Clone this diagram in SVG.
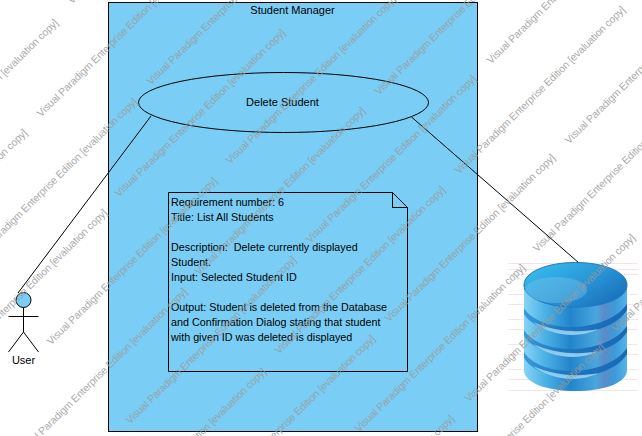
<svg xmlns="http://www.w3.org/2000/svg" width="642" height="436" viewBox="0 0 642 436">
<style>
.s{fill:none;stroke:#000;stroke-width:1}
.f{fill:#7ACEF5;stroke:#000;stroke-width:1}
text{font-family:"Liberation Sans",Arial,sans-serif;font-size:11px;fill:#000}
.m{text-anchor:middle}
.n{font-size:10.78px}
.w{font-size:10.5px;fill:#999;fill-opacity:.85}
.b{stroke:#f3e6ea;stroke-width:1}
.h{fill:#a8dcf5;fill-opacity:.8}
.d{fill:url(#band)}
</style>
<defs>
<linearGradient id="side" x1="0" x2="1" y1="0" y2="0">
<stop offset="0" stop-color="#86d4f4"/><stop offset=".2" stop-color="#4db2e6"/><stop offset=".45" stop-color="#2285cc"/><stop offset=".7" stop-color="#4aa6dc"/><stop offset=".78" stop-color="#5a8cc8"/><stop offset=".88" stop-color="#3d9ad8"/><stop offset="1" stop-color="#52b4e8"/>
</linearGradient>
<linearGradient id="top" x1="0" x2="1" y1="0" y2=".7">
<stop offset="0" stop-color="#3cc0f2"/><stop offset=".55" stop-color="#2a9ad8"/><stop offset="1" stop-color="#1a72bc"/>
</linearGradient>
<linearGradient id="band" x1="0" x2="1" y1="0" y2="0">
<stop offset="0" stop-color="#3a9ad8"/><stop offset=".35" stop-color="#1f78c0"/><stop offset="1" stop-color="#1a68b4"/>
</linearGradient>
</defs>
<g id="system"><rect class="f" x="108.5" y="2.5" width="369" height="429"/><text class="m" x="292.5" y="14">Student Manager</text></g>
<g id="usecase"><ellipse class="f" cx="283.5" cy="102.5" rx="145" ry="30"/><text class="m" x="282.5" y="106">Delete Student</text></g>
<g id="note">
<path class="f" d="M168.5 192.5H392.5L407.5 207.5V371.5H168.5Z"/><path class="s" d="M392.5 192.5V207.5H407.5"/>
<text class="n" x="171" y="206">Requirement number: 6</text>
<text class="n" x="171" y="221">Title: List All Students</text>
<text class="n" x="171" y="251" xml:space="preserve">Description:  Delete currently displayed</text>
<text class="n" x="171" y="266">Student.</text>
<text class="n" x="171" y="281">Input: Selected Student ID</text>
<text class="n" x="171" y="311">Output: Student is deleted from the Database</text>
<text class="n" x="171" y="326">and Confirmation Dialog stating that student</text>
<text class="n" x="171" y="341">with given ID was deleted is displayed</text>
</g>
<g id="connectors"><path class="s" d="M151 116L18 293"/><path class="s" d="M411.5 117L579 263"/></g>
<g id="user">
<circle cx="23.5" cy="300" r="7.5" fill="#7ACEF5" stroke="#000"/>
<path class="s" d="M23.5 307.5V332M8.5 316.5H38.5M8.5 352L23.5 332L38.5 352"/>
<text class="m" x="23.5" y="364">User</text>
</g>
<g id="database">
<path class="b" d="M508 263.500H638M508 269.500H638M508 274.500H638M508 294.500H638M508 304.500H638M508 319.500H638M508 329.500H638M508 344.500H638M508 354.500H638M508 369.500H638M508 379.500H638M508 390.500H638"/>
<path d="M524 285V370C524 383 547 391 575.500 391S627 383 627 370V285Z" fill="url(#side)"/>
<path class="d" d="M524 352C540 378 606 378 627 348V354C608 384 540 384 524 358Z"/>
<path class="d" d="M524 330C540 356 606 356 627 326V332C608 362 540 362 524 336Z"/>
<path class="d" d="M524 308C540 334 606 334 627 304V310C608 340 540 340 524 314Z"/>
<path class="h" d="M533 366C555 376 580 377 598 373C580 383 550 380 533 366Z M533 344C555 354 580 355 598 351C580 361 550 358 533 344Z M533 322C555 332 580 333 598 329C580 339 550 336 533 322Z"/>
<path d="M524 285C524 298 547 307 575.500 307S627 298 627 285C627 272 604 262.500 575.500 262.500S524 272 524 285Z" fill="url(#top)" stroke="#1e78c0"/>
<ellipse cx="556" cy="290" rx="31" ry="13" fill="#7cc4ea" fill-opacity=".4"/>
</g>
<g id="watermark">
<g transform="translate(4 2.500)">
<text class="w" textLength="234" transform="translate(-43 36) rotate(-44.500)">Visual Paradigm Enterprise Edition [evaluation copy]</text>
<text class="w" textLength="234" transform="translate(37 115) rotate(-44.500)">Visual Paradigm Enterprise Edition [evaluation copy]</text>
<text class="w" textLength="234" transform="translate(115 195) rotate(-44.500)">Visual Paradigm Enterprise Edition [evaluation copy]</text>
<text class="w" textLength="234" transform="translate(195 273) rotate(-44.500)">Visual Paradigm Enterprise Edition [evaluation copy]</text>
<text class="w" textLength="234" transform="translate(275 352) rotate(-44.500)">Visual Paradigm Enterprise Edition [evaluation copy]</text>
<text class="w" textLength="234" transform="translate(355 430) rotate(-44.500)">Visual Paradigm Enterprise Edition [evaluation copy]</text>
<text class="w" textLength="234" transform="translate(434 509) rotate(-44.500)">Visual Paradigm Enterprise Edition [evaluation copy]</text>
<text class="w" textLength="234" transform="translate(68 2) rotate(-44.500)">Visual Paradigm Enterprise Edition [evaluation copy]</text>
<text class="w" textLength="234" transform="translate(147 83) rotate(-44.500)">Visual Paradigm Enterprise Edition [evaluation copy]</text>
<text class="w" textLength="234" transform="translate(226 162) rotate(-44.500)">Visual Paradigm Enterprise Edition [evaluation copy]</text>
<text class="w" textLength="234" transform="translate(306 241) rotate(-44.500)">Visual Paradigm Enterprise Edition [evaluation copy]</text>
<text class="w" textLength="234" transform="translate(385 320) rotate(-44.500)">Visual Paradigm Enterprise Edition [evaluation copy]</text>
<text class="w" textLength="234" transform="translate(465 400) rotate(-44.500)">Visual Paradigm Enterprise Edition [evaluation copy]</text>
<text class="w" textLength="234" transform="translate(375 93) rotate(-44.500)">Visual Paradigm Enterprise Edition [evaluation copy]</text>
<text class="w" textLength="234" transform="translate(455 172) rotate(-44.500)">Visual Paradigm Enterprise Edition [evaluation copy]</text>
<text class="w" textLength="234" transform="translate(533 250) rotate(-44.500)">Visual Paradigm Enterprise Edition [evaluation copy]</text>
<text class="w" textLength="234" transform="translate(612 330) rotate(-44.500)">Visual Paradigm Enterprise Edition [evaluation copy]</text>
<text class="w" textLength="234" transform="translate(487 62) rotate(-44.500)">Visual Paradigm Enterprise Edition [evaluation copy]</text>
<text class="w" textLength="234" transform="translate(565 142) rotate(-44.500)">Visual Paradigm Enterprise Edition [evaluation copy]</text>
<text class="w" textLength="234" transform="translate(-112 185) rotate(-44.500)">Visual Paradigm Enterprise Edition [evaluation copy]</text>
<text class="w" textLength="234" transform="translate(-33 264) rotate(-44.500)">Visual Paradigm Enterprise Edition [evaluation copy]</text>
<text class="w" textLength="234" transform="translate(47 343) rotate(-44.500)">Visual Paradigm Enterprise Edition [evaluation copy]</text>
<text class="w" textLength="234" transform="translate(126 422) rotate(-44.500)">Visual Paradigm Enterprise Edition [evaluation copy]</text>
<text class="w" textLength="234" transform="translate(205 501) rotate(-44.500)">Visual Paradigm Enterprise Edition [evaluation copy]</text>
<text class="w" textLength="234" transform="translate(284 581) rotate(-44.500)">Visual Paradigm Enterprise Edition [evaluation copy]</text>
<text class="w" textLength="234" transform="translate(-143 295) rotate(-44.500)">Visual Paradigm Enterprise Edition [evaluation copy]</text>
<text class="w" textLength="234" transform="translate(-63 375) rotate(-44.500)">Visual Paradigm Enterprise Edition [evaluation copy]</text>
<text class="w" textLength="234" transform="translate(17 454) rotate(-44.500)">Visual Paradigm Enterprise Edition [evaluation copy]</text>
<text class="w" textLength="234" transform="translate(96 534) rotate(-44.500)">Visual Paradigm Enterprise Edition [evaluation copy]</text>
</g>
</g>
</svg>
